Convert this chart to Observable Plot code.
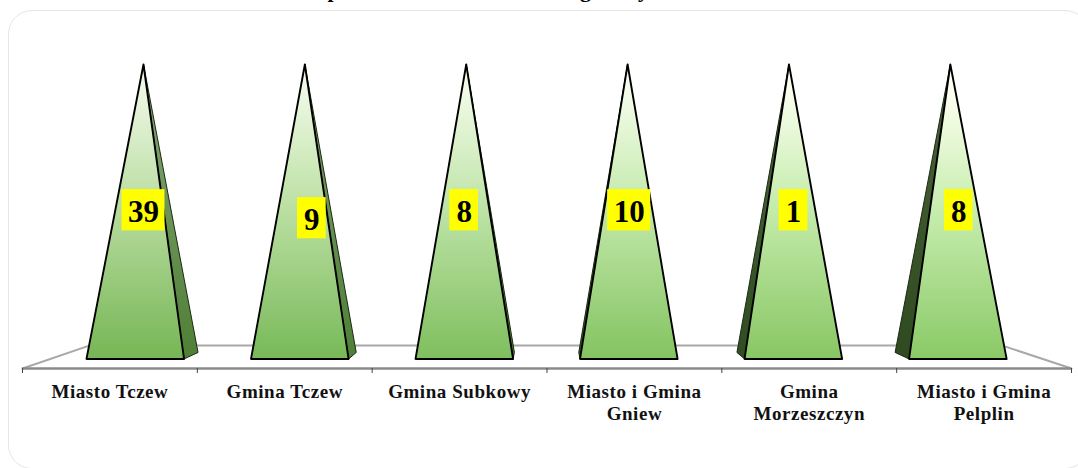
<!DOCTYPE html>
<html>
<head>
<meta charset="utf-8">
<script src="https://cdn.jsdelivr.net/npm/d3@7"></script>
<script src="https://cdn.jsdelivr.net/npm/@observablehq/plot@0.6"></script>
<style>
  html, body { margin: 0; padding: 0; background: #fff; overflow: hidden; }
  #card { position: absolute; left: 7.5px; top: 9.5px; width: 1081.5px; height: 459.5px;
          border: 1px solid #e6e6e6; border-radius: 24px; box-sizing: border-box; }
  #chart { position: absolute; left: 0; top: 0; }
  #chart svg { background: transparent; overflow: visible; display: block; }
  #chart [aria-label="x-axis tick label"] { letter-spacing: 0.55px; }
</style>
</head>
<body>
<div id="card"></div>
<div id="chart"></div>
<script>
// ---- data ----
const categories = ["Miasto Tczew", "Gmina Tczew", "Gmina Subkowy",
                    "Miasto i Gmina\nGniew", "Gmina\nMorzeszczyn", "Miasto i Gmina\nPelplin"];
const values = [39, 9, 8, 10, 1, 8];
const share = [100, 100, 100, 100, 100, 100];   // every pyramid is a full 100 % column
// only the descenders of the cropped title line are legible in the picture
const titleFragments = ["p", "g", "y"];

// ---- layout of the 3-D scene, in scale units (x: categories, y: percent) ----
const yAxis = -3.25, yBack = 4.6, yCorner = 2.2;
const center = 3, perspective = 0.0386;
const baseStart = 0.366, baseStep = 0.941, baseWidth = 0.558;
const apexStart = 0.692, apexStep = 0.923;
const labelX = [0.692, 1.655, 2.526, 3.47, 4.41, 5.355];
const labelY = [50.5, 47.8, 50.5, 50.5, 50.5, 50.5];
const titleX = [1.779, 3.22, 3.552];
const titleY = 125.4;

// ---- styles ----
const serif = "'Liberation Serif', 'Times New Roman', serif";
const faceStops = [
  ["#eef8e4", "#b9dca0", "#76b655"],
  ["#eff9e5", "#bce0a4", "#78b958"],
  ["#f2fbe8", "#bfe4a8", "#7fbe5e"],
  ["#f6fdec", "#c3e9ab", "#84c361"],
  ["#fbfff0", "#c5ecac", "#88c664"],
  ["#fffff2", "#c8eeb0", "#8ac966"]
];
const sideStops = [
  ["#87a878", "#4f7f35"], ["#7f9f70", "#4f8036"], ["#6e9060", "#4c7a33"],
  ["#4a6a3a", "#345325"], ["#4a6a3a", "#304c22"], ["#4a6239", "#2f4a20"]
];

const defs = () => {
  const g = d3.create("svg:defs");
  const add = (id, stops, offsets) => {
    const lg = g.append("linearGradient").attr("id", id)
      .attr("x1", 0).attr("y1", 0).attr("x2", 0).attr("y2", 1);
    stops.forEach((c, k) => lg.append("stop").attr("offset", offsets[k]).attr("stop-color", c));
  };
  faceStops.forEach((s, i) => add("face" + i, s, [0.08, 0.48, 1]));
  sideStops.forEach((s, i) => add("side" + i, s, [0, 1]));
  return g.node();
};

const marks = [defs];

// cropped title line
marks.push(Plot.text(titleFragments, {x: (d, i) => titleX[i], y: () => titleY, text: d => d,
  fontFamily: serif, fontWeight: "bold", fontSize: 22, fill: "#000"}));

// floor of the chart
const floorLine = [[0, yAxis], [baseStart + 0.02, yBack], [5.6, yBack], [6, yAxis]];
marks.push(Plot.line(floorLine, {x: "0", y: "1", stroke: "#a8a8a8", strokeWidth: 2}));
marks.push(Plot.ruleY([yAxis], {stroke: "#8a8a8a", strokeWidth: 2.6}));

// pyramids
categories.forEach((c, i) => {
  const left = baseStart + baseStep * i;
  const right = left + baseWidth;
  const apex = [apexStart + apexStep * i, share[i]];
  const corner = i < 3 ? right : left;
  const back = corner + (center - corner) * perspective;
  const side = [apex, [corner, 0], [back, yCorner], apex];
  const face = [apex, [left, 0], [right, 0], apex];
  marks.push(Plot.line(side, {x: "0", y: "1", fill: `url(#side${i})`, stroke: "#1c2a14",
    strokeWidth: 1, strokeLinejoin: "round"}));
  marks.push(Plot.line(face, {x: "0", y: "1", fill: `url(#face${i})`, stroke: "#000",
    strokeWidth: 1.9, strokeLinejoin: "round"}));
});

// value labels
const labels = values.map((v, i) => ({v, x: labelX[i], y: labelY[i], half: v >= 10 ? 0.123 : 0.082}));
marks.push(Plot.rect(labels, {x1: d => d.x - d.half, x2: d => d.x + d.half,
  y1: d => d.y - 7, y2: d => d.y + 7, fill: "#ffff00"}));
marks.push(Plot.text(labels, {x: "x", y: "y", dy: 1.5, text: d => String(d.v), fontFamily: serif,
  fontWeight: "bold", fontSize: 31, fill: "#000"}));

// axis ticks and category labels
marks.push(Plot.axisX({ticks: d3.range(0, 7), tickSize: 5, tickFormat: () => "", stroke: "#444"}));
marks.push(Plot.axisX({ticks: d3.range(6).map(i => i + 0.5), tickSize: 0, tickPadding: 14,
  tickFormat: d => categories[d - 0.5], fontFamily: serif, fontWeight: "bold", fontSize: 19,
  lineHeight: 1.16, fill: "#111"}));

const fig = Plot.plot({
  width: 1078,
  height: 468,
  marginLeft: 22,
  marginRight: 7,
  marginTop: 64,
  marginBottom: 100,
  x: {domain: [0, 6], axis: null},
  y: {domain: [yAxis, 100], axis: null},
  marks
});
document.getElementById("chart").append(fig);
</script>
</body>
</html>
